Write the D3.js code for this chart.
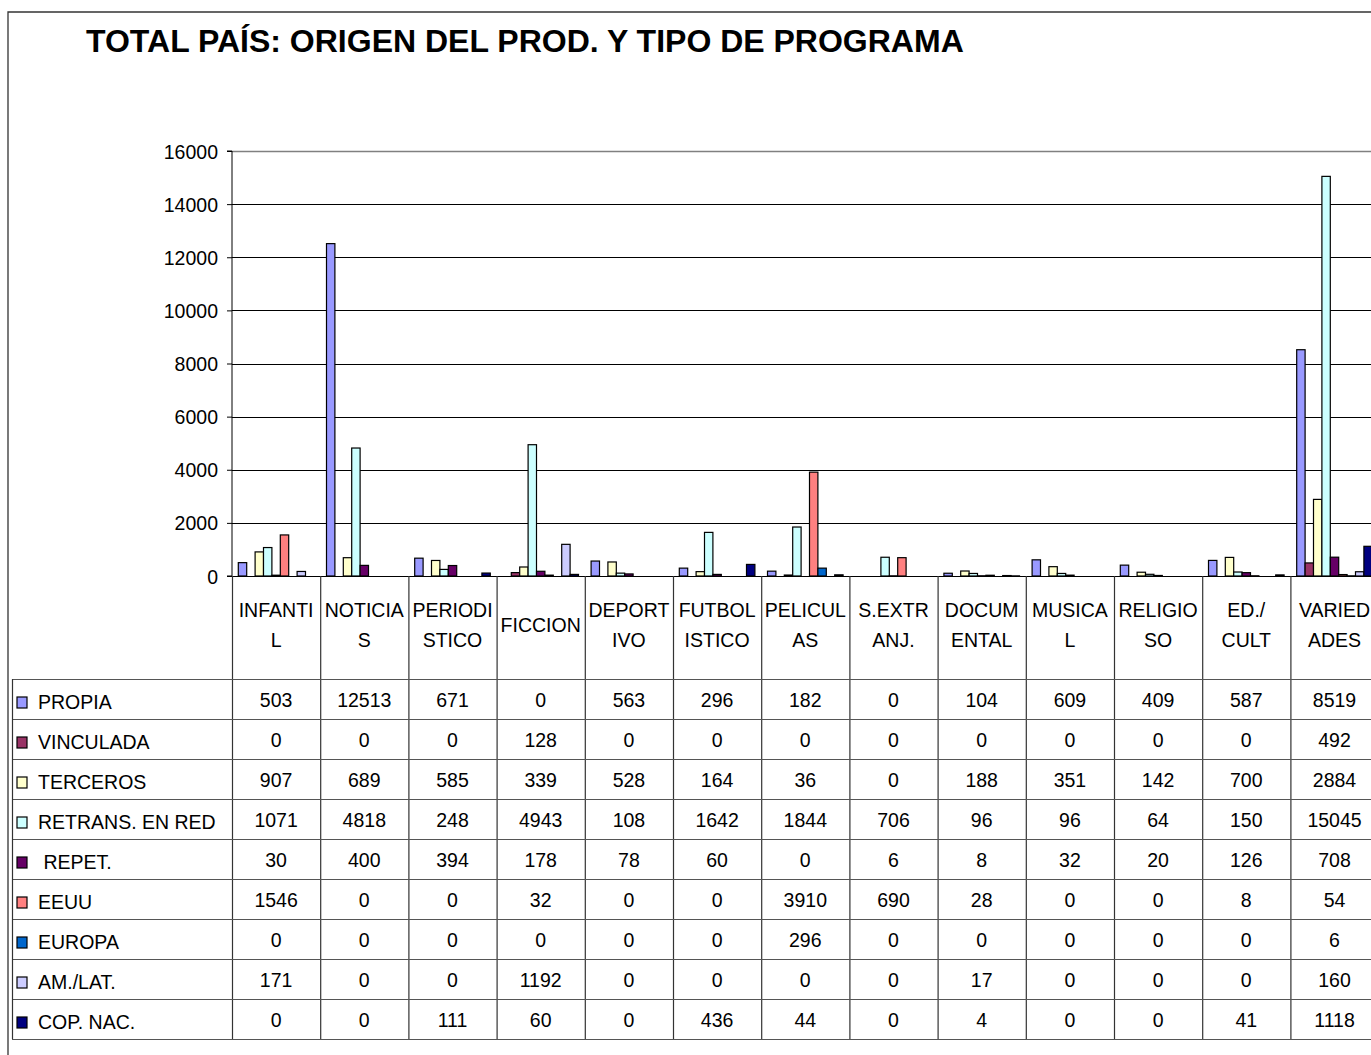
<!DOCTYPE html>
<html>
<head>
<meta charset="utf-8">
<script src="https://cdn.jsdelivr.net/npm/d3@7"></script>
<style>
  html, body { margin: 0; padding: 0; background: #fff; }
  svg { display: block; font-family: "Liberation Sans", Arial, sans-serif; }
  text { white-space: pre; }
</style>
</head>
<body>
<svg id="chart" width="1371" height="1055"></svg>
<script>
// Programme types (columns) and their two-line header labels
const categories = ["INFANTIL", "NOTICIAS", "PERIODISTICO", "FICCION", "DEPORTIVO", "FUTBOLISTICO",
  "PELICULAS", "S.EXTRANJ.", "DOCUMENTAL", "MUSICAL", "RELIGIOSO", "ED./ CULT", "VARIEDADES"];
const categoryLines = [["INFANTI", "L"], ["NOTICIA", "S"], ["PERIODI", "STICO"], ["FICCION"],
  ["DEPORT", "IVO"], ["FUTBOL", "ISTICO"], ["PELICUL", "AS"], ["S.EXTR", "ANJ."], ["DOCUM", "ENTAL"],
  ["MUSICA", "L"], ["RELIGIO", "SO"], ["ED./", "CULT"], ["VARIED", "ADES"]];

// Origin of production (series)
const seriesNames = ["PROPIA", "VINCULADA", "TERCEROS", "RETRANS. EN RED", " REPET.", "EEUU", "EUROPA", "AM./LAT.", "COP. NAC."];
const seriesColors = ["#9999FF", "#993366", "#FFFFCC", "#CCFFFF", "#660066", "#FF8080", "#0066CC", "#CCCCFF", "#000080"];

const propia    = [503, 12513, 671, 0, 563, 296, 182, 0, 104, 609, 409, 587, 8519];
const vinculada = [0, 0, 0, 128, 0, 0, 0, 0, 0, 0, 0, 0, 492];
const terceros  = [907, 689, 585, 339, 528, 164, 36, 0, 188, 351, 142, 700, 2884];
const retrans   = [1071, 4818, 248, 4943, 108, 1642, 1844, 706, 96, 96, 64, 150, 15045];
const repet     = [30, 400, 394, 178, 78, 60, 0, 6, 8, 32, 20, 126, 708];
const eeuu      = [1546, 0, 0, 32, 0, 0, 3910, 690, 28, 0, 0, 8, 54];
const europa    = [0, 0, 0, 0, 0, 0, 296, 0, 0, 0, 0, 0, 6];
const amlat     = [171, 0, 0, 1192, 0, 0, 0, 0, 17, 0, 0, 0, 160];
const copnac    = [0, 0, 111, 60, 0, 436, 44, 0, 4, 0, 0, 41, 1118];

const seriesValues = [propia, vinculada, terceros, retrans, repet, eeuu, europa, amlat, copnac];
const yTicks = [0, 2000, 4000, 6000, 8000, 10000, 12000, 14000, 16000];

const svg = d3.select("#chart");
const W = 1371, H = 1055;
const plotLeft = 232, plotTop = 151, plotBottom = 576;
const bandW = 88.2;
const plotRight = plotLeft + bandW * categories.length;
const tableLeft = 12, rowTop = 679, rowH = 40;
const fontSize = 19.5;

svg.append("rect").attr("width", W).attr("height", H).attr("fill", "#fff");

const x = d3.scaleBand().domain(categories).range([plotLeft, plotRight]).paddingInner(0).paddingOuter(0);
const xs = d3.scaleBand().domain(seriesNames).range([0, x.bandwidth()]).paddingInner(0).paddingOuter(0.75);
const y = d3.scaleLinear().domain([0, 16000]).range([plotBottom, plotTop]);

// Chart frame
svg.append("path")
  .attr("d", `M8,${H} V12 H${W}`)
  .attr("fill", "none").attr("stroke", "#333").attr("stroke-width", 1.3);

// Title
svg.append("text")
  .attr("x", 86).attr("y", 52)
  .attr("font-size", 32).attr("font-weight", "bold").attr("fill", "#000")
  .text("TOTAL PAÍS: ORIGEN DEL PROD. Y TIPO DE PROGRAMA");

// Gridlines
svg.append("g")
  .selectAll("line")
  .data(yTicks.filter(t => t > 0 && t < 16000))
  .join("line")
  .attr("x1", plotLeft).attr("x2", plotRight)
  .attr("y1", d => Math.round(y(d)) + 0.5).attr("y2", d => Math.round(y(d)) + 0.5)
  .attr("stroke", "#000").attr("stroke-width", 1);

// Plot-area border (top)
svg.append("line")
  .attr("x1", plotLeft).attr("x2", plotRight)
  .attr("y1", Math.round(y(16000)) + 0.5).attr("y2", Math.round(y(16000)) + 0.5)
  .attr("stroke", "#808080").attr("stroke-width", 1.5);

// Bars
const groups = svg.append("g").selectAll("g")
  .data(seriesNames.map((name, i) => ({ name, color: seriesColors[i], values: seriesValues[i] })))
  .join("g")
  .attr("fill", d => d.color);

groups.selectAll("rect")
  .data(d => d.values.map((v, j) => ({ name: d.name, cat: categories[j], v })))
  .join("rect")
  .attr("x", d => x(d.cat) + xs(d.name))
  .attr("width", xs.bandwidth())
  .attr("y", d => y(d.v))
  .attr("height", d => y(0) - y(d.v))
  .attr("stroke", "#000").attr("stroke-width", 1.2);

// Y axis
const yAxis = d3.axisLeft(y).tickValues(yTicks).tickSize(5).tickPadding(9).tickFormat(d3.format("d"));
const ya = svg.append("g").attr("transform", `translate(${plotLeft},0)`).call(yAxis);
ya.select(".domain").attr("stroke", "#000").attr("d", `M-5,${y(16000)}H0V${y(0)}H-5`);
ya.selectAll(".tick line").attr("stroke", "#000");
ya.selectAll(".tick text")
  .attr("font-size", fontSize).attr("font-family", "Liberation Sans, Arial, sans-serif")
  .attr("fill", "#000").attr("dy", "0.36em");

// X axis baseline
svg.append("line")
  .attr("x1", plotLeft).attr("x2", plotRight)
  .attr("y1", plotBottom + 0.5).attr("y2", plotBottom + 0.5)
  .attr("stroke", "#000").attr("stroke-width", 1.2);

// Data table: column separators
const tableBottom = rowTop + rowH * seriesNames.length;
svg.append("g").selectAll("line")
  .data(categories)
  .join("line")
  .attr("x1", d => x(d) + 0.5).attr("x2", d => x(d) + 0.5)
  .attr("y1", plotBottom).attr("y2", tableBottom)
  .attr("stroke", "#333").attr("stroke-width", 1.2);
svg.append("line")
  .attr("x1", plotRight).attr("x2", plotRight)
  .attr("y1", plotBottom).attr("y2", tableBottom)
  .attr("stroke", "#333").attr("stroke-width", 1.2);

// Row borders
svg.append("g").selectAll("line")
  .data(d3.range(seriesNames.length + 1))
  .join("line")
  .attr("x1", tableLeft).attr("x2", plotRight)
  .attr("y1", i => rowTop + i * rowH + 0.5).attr("y2", i => rowTop + i * rowH + 0.5)
  .attr("stroke", "#555").attr("stroke-width", 1.2);
svg.append("line")
  .attr("x1", tableLeft + 0.5).attr("x2", tableLeft + 0.5)
  .attr("y1", rowTop).attr("y2", tableBottom)
  .attr("stroke", "#333").attr("stroke-width", 1.2);

// Category headers
const headers = svg.append("g").selectAll("text")
  .data(categories.map((c, i) => ({ c, lines: categoryLines[i] })))
  .join("text")
  .attr("text-anchor", "middle")
  .attr("font-size", fontSize).attr("fill", "#000");
headers.each(function (d) {
  const t = d3.select(this);
  const cx = x(d.c) + x.bandwidth() / 2;
  if (d.lines.length === 1) {
    t.append("tspan").attr("x", cx).attr("y", 632).text(d.lines[0]);
  } else {
    d.lines.forEach((l, k) => t.append("tspan").attr("x", cx).attr("y", 617 + k * 30).text(l));
  }
});

// Row labels with legend keys
const rows = svg.append("g").selectAll("g")
  .data(seriesNames.map((name, i) => ({ name, color: seriesColors[i], values: seriesValues[i], i })))
  .join("g")
  .attr("transform", d => `translate(0,${rowTop + d.i * rowH})`);

rows.append("rect")
  .attr("x", 17).attr("y", 18).attr("width", 10).attr("height", 11)
  .attr("fill", d => d.color).attr("stroke", "#000").attr("stroke-width", 1.2);

rows.append("text")
  .attr("x", 38).attr("y", 30)
  .attr("font-size", fontSize).attr("fill", "#000")
  .text(d => d.name);

rows.selectAll("text.val")
  .data(d => d.values.map((v, j) => ({ v, cat: categories[j] })))
  .join("text")
  .attr("class", "val")
  .attr("x", d => x(d.cat) + x.bandwidth() / 2)
  .attr("y", 28)
  .attr("text-anchor", "middle")
  .attr("font-size", fontSize).attr("fill", "#000")
  .text(d => d.v);
</script>
</body>
</html>
